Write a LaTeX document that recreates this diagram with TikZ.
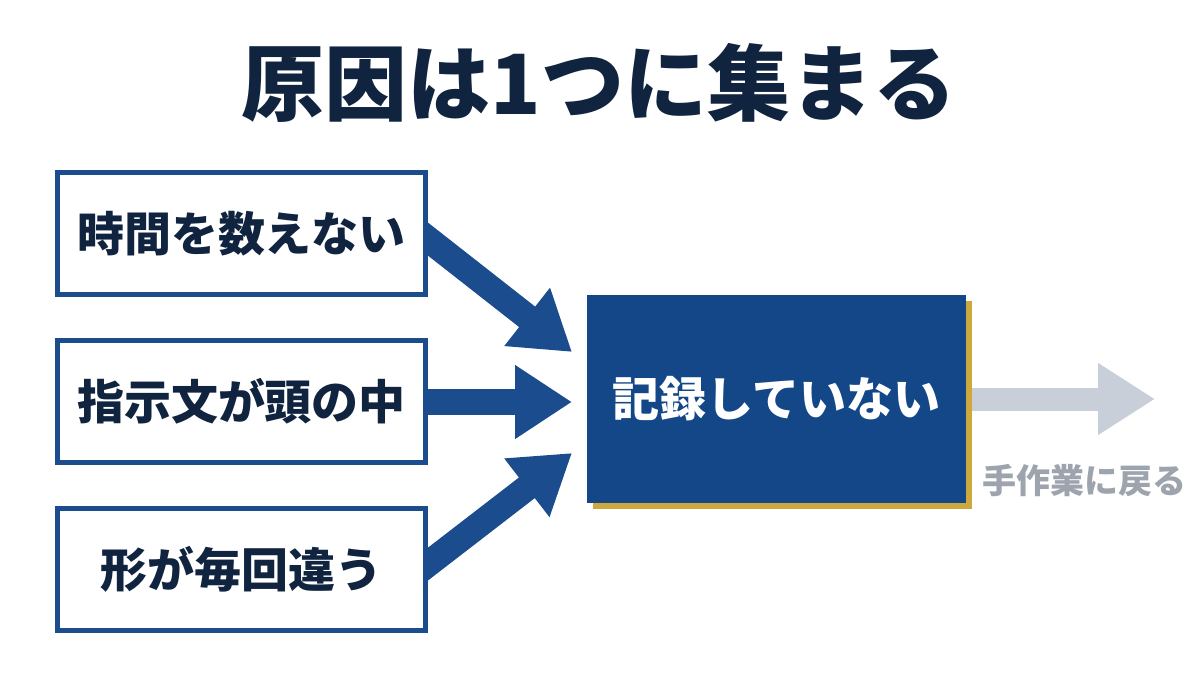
\documentclass[tikz,border=0pt]{standalone}
\usepackage{fontspec}
\setmainfont{Noto Sans CJK JP}[BoldFont={Noto Sans CJK JP Black}]
\usetikzlibrary{arrows.meta,backgrounds}
\definecolor{navy}{HTML}{10233F}
\definecolor{boxblue}{HTML}{1B4C8D}
\definecolor{mainblue}{HTML}{134787}
\definecolor{gold}{HTML}{CDA83E}
\definecolor{lightgrey}{HTML}{C9CFD8}
\definecolor{textgrey}{HTML}{9EA4AE}
\tikzset{
  causebox/.style={draw=boxblue, line width=5pt, fill=white, minimum width=368pt, minimum height=122pt, inner sep=0pt, text=navy, font=\fontsize{47}{47}\selectfont\bfseries},
  mainbox/.style={fill=mainblue, minimum width=379pt, minimum height=208pt, inner sep=0pt, text=white, font=\fontsize{47}{47}\selectfont\bfseries},
  bigarrow/.style={draw=boxblue, line width=26pt, -{Triangle[length=57pt,width=70pt]}},
  greyarrow/.style={draw=lightgrey, line width=23pt, -{Triangle[length=57pt,width=68pt]}},
}
\begin{document}
\begin{tikzpicture}[x=1pt,y=-1pt]
\useasboundingbox (0,0) rectangle (1200,691);
% title
\node[text=navy, font=\fontsize{83}{83}\selectfont\bfseries] (title) at (599,83) {原因は1つに集まる};
% arrow coordinates
\coordinate (s1) at (399,216.4);
\coordinate (t1) at (572,352);
\coordinate (s2) at (400,402);
\coordinate (t2) at (572,402);
\coordinate (s3) at (399,586.4);
\coordinate (t3) at (572,453);
\coordinate (t4) at (1155,399);
% arrows (under boxes)
\draw[bigarrow] (s1) -- (t1);
\draw[bigarrow] (s2) -- (t2);
\draw[bigarrow] (s3) -- (t3);
% cause boxes
\node[causebox] (b1) at (241.5,233.5) {時間を数えない};
\node[causebox] (b2) at (241.5,401) {指示文が頭の中};
\node[causebox] (b3) at (241.5,569.5) {形が毎回違う};
% main box
\node[mainbox] (m) at (776.5,399) {記録していない};
\begin{scope}[on background layer]
  \fill[white] (0,0) rectangle (1200,691);
  \draw[greyarrow] (m.east) -- (t4);
  \fill[gold] ([shift={(6,6)}]m.north west) rectangle ([shift={(6,6)}]m.south east);
\end{scope}
\node[text=textgrey, font=\fontsize{34}{34}\selectfont\bfseries] (lab) at (1084,481) {手作業に戻る};
\end{tikzpicture}
\end{document}
